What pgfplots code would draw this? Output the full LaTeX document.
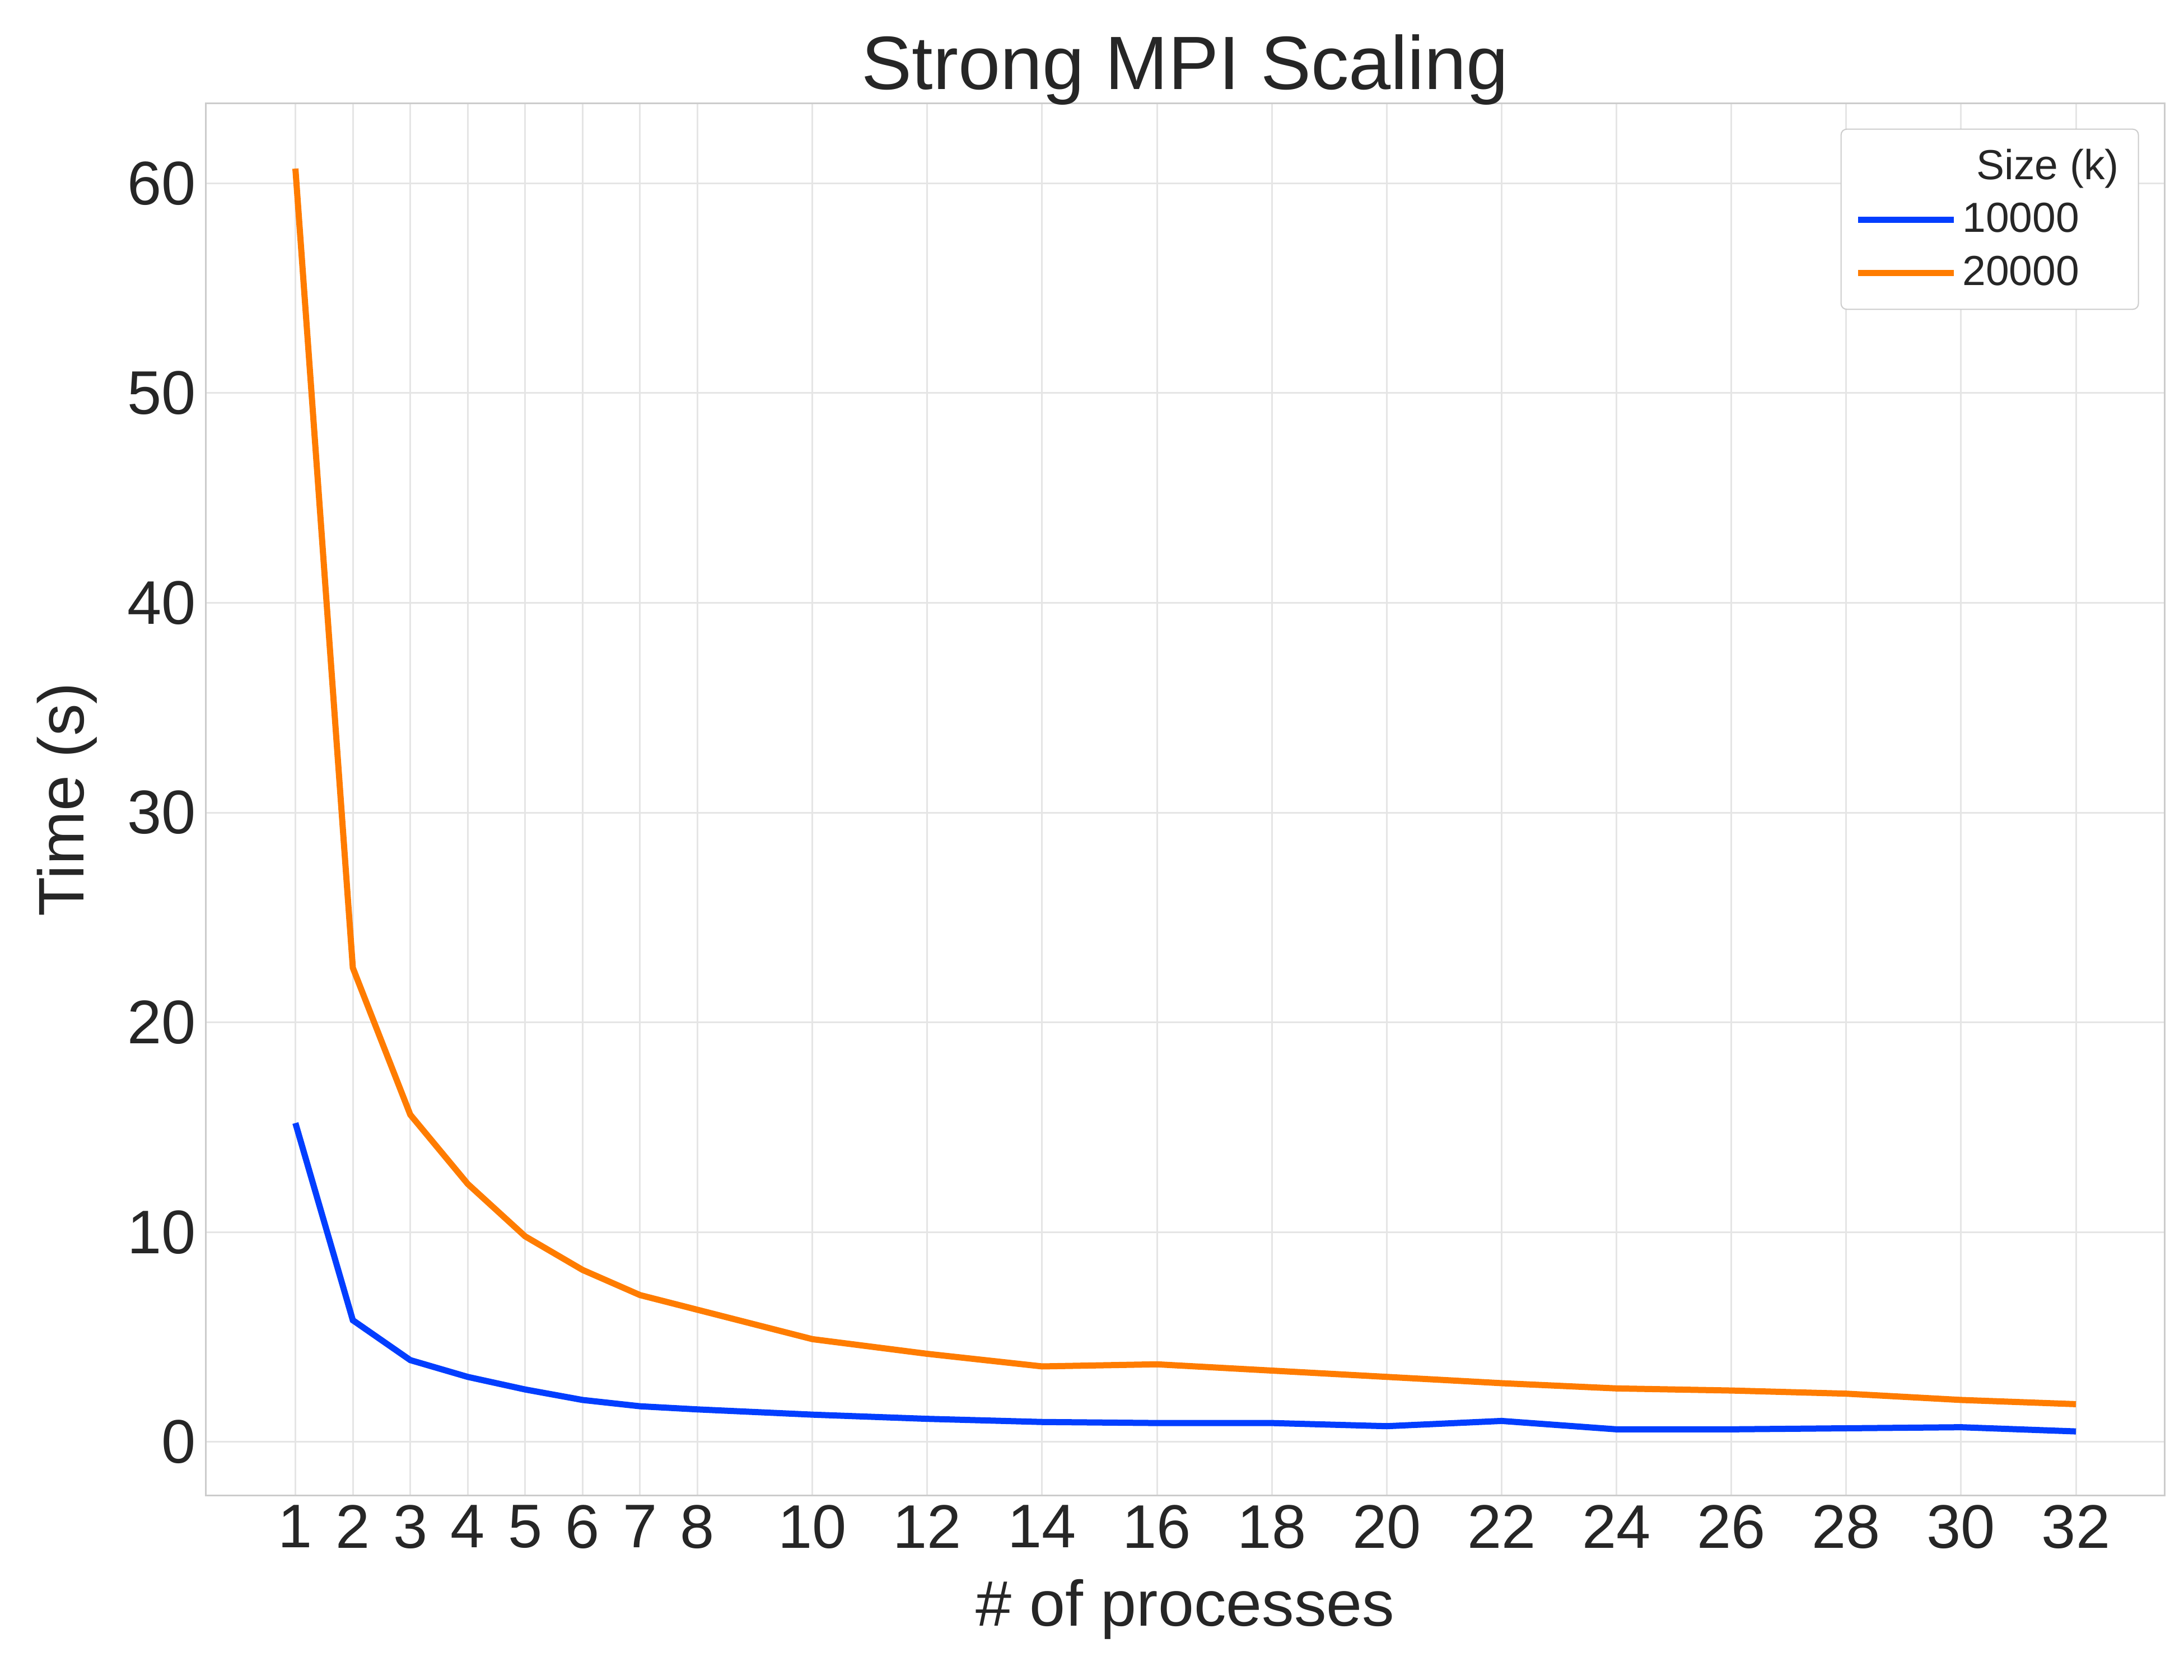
\documentclass[border=0pt]{standalone}
\usepackage{pgfplots}
\pgfplotsset{compat=1.18}
\usepackage{fontspec}
\setmainfont{Liberation Sans}
\definecolor{sblue}{HTML}{023EFF}
\definecolor{sorange}{HTML}{FF7C00}
\definecolor{gridc}{HTML}{E5E5E5}
\definecolor{framec}{HTML}{CCCCCC}
\definecolor{txt}{HTML}{262626}
\begin{document}
\begin{tikzpicture}
\useasboundingbox (-73.5pt,-66pt) rectangle (706.5pt,534pt);
\begin{axis}[
  scale only axis, width=699.5pt, height=497pt,
  xmin=-0.56, xmax=33.54, ymin=-2.54, ymax=63.8,
  xtick={1,2,3,4,5,6,7,8,10,12,14,16,18,20,22,24,26,28,30,32},
  ytick={0,10,20,30,40,50,60},
  /pgf/number format/assume math mode=true,
  tick label style={font=\fontsize{22}{25}\selectfont, text=txt},
  grid=major, major grid style={gridc, line width=0.6pt},
  axis line style={framec, line width=0.6pt},
  tick style={draw=none},
  title={Strong MPI Scaling}, title style={font=\fontsize{27}{30}\selectfont, text=txt, yshift=-10pt},
  xlabel={\# of processes}, ylabel={Time (s)},
  label style={font=\fontsize{23}{26}\selectfont, text=txt},
  xlabel style={yshift=-4pt}, ylabel style={yshift=4pt},
  legend style={at={(0.987,0.982)}, anchor=north east, draw=framec, rounded corners=2pt,
    font=\fontsize{15}{18}\selectfont, text=txt, row sep=3pt, inner sep=5pt},
  legend image post style={line width=2.2pt},
  legend image code/.code={\draw[#1] (0cm,0cm) -- (1.2cm,0cm);},
  legend cell align=left,
]
\addlegendimage{empty legend}
\addlegendentry{\hspace{5pt}Size (k)}
\addplot[sblue, line width=2.2pt] coordinates {(1,15.2)(2,5.8)(3,3.9)(4,3.1)(5,2.5)(6,2.0)(7,1.7)(8,1.55)(10,1.3)(12,1.1)(14,0.95)(16,0.9)(18,0.9)(20,0.75)(22,1.0)(24,0.6)(26,0.6)(28,0.65)(30,0.7)(32,0.5)};
\addlegendentry{10000}
\addplot[sorange, line width=2.2pt] coordinates {(1,60.7)(2,22.6)(3,15.6)(4,12.3)(5,9.8)(6,8.2)(7,7.0)(8,6.3)(10,4.9)(12,4.2)(14,3.6)(16,3.7)(18,3.4)(20,3.1)(22,2.8)(24,2.55)(26,2.45)(28,2.3)(30,2.0)(32,1.8)};
\addlegendentry{20000}
\end{axis}
\end{tikzpicture}
\end{document}
